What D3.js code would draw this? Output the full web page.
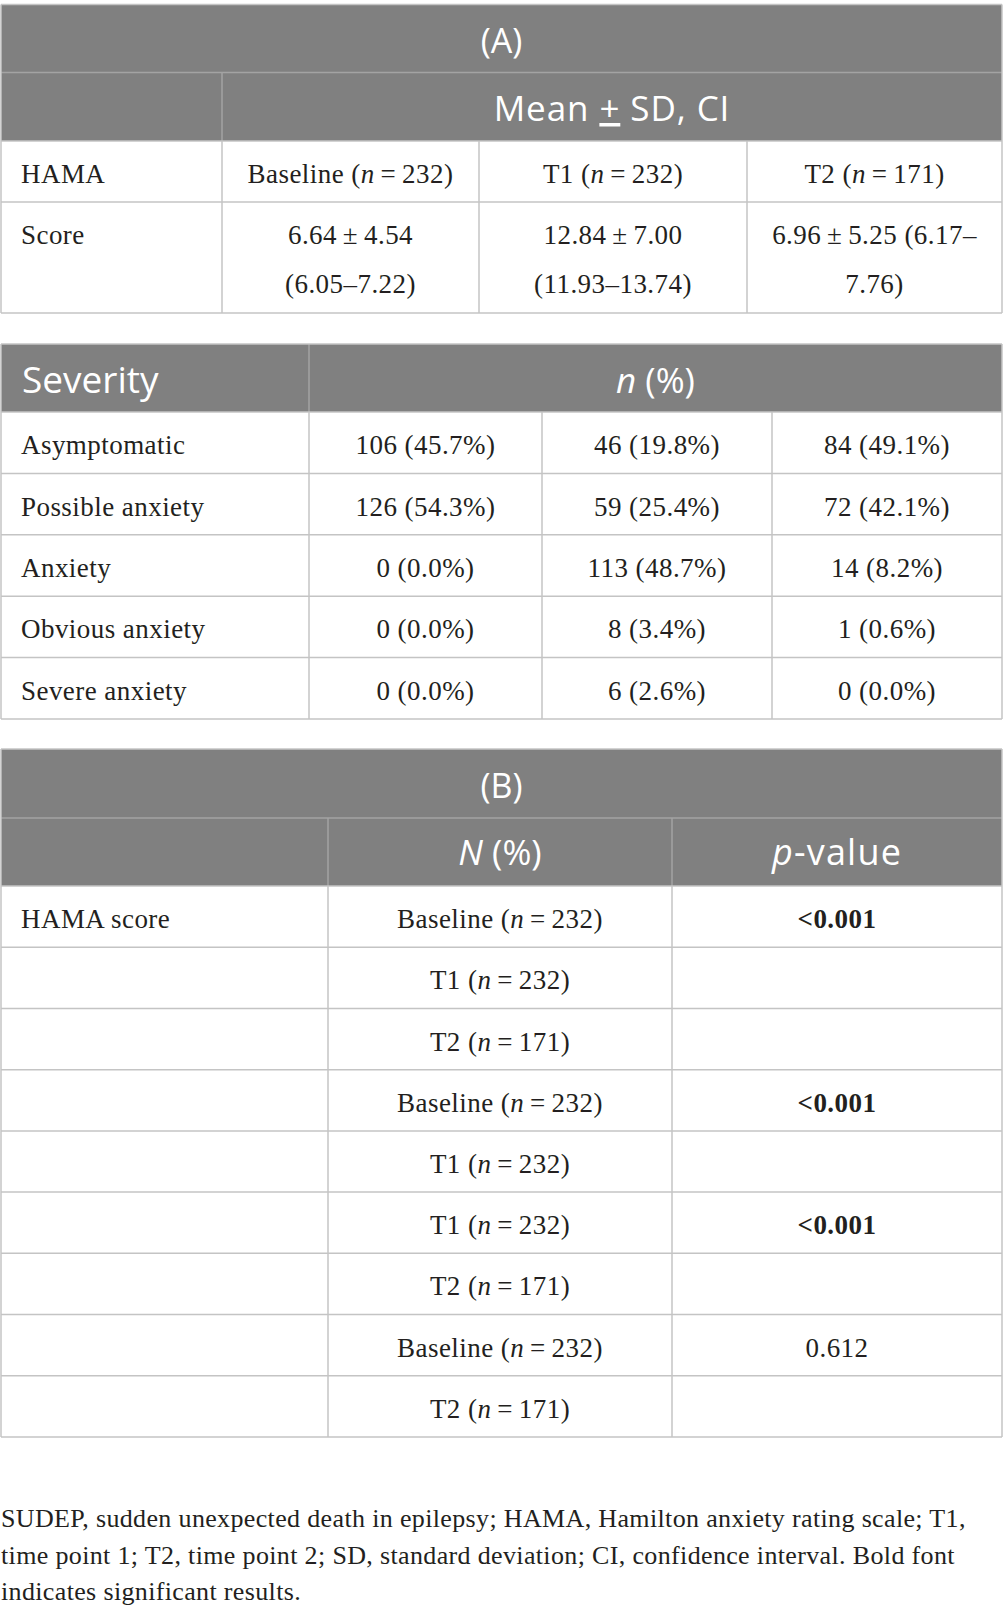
<!DOCTYPE html>
<html>
<head>
<meta charset="utf-8">
<script src="https://cdn.jsdelivr.net/npm/d3@7"></script>
<style>
  body { margin: 0; background: #fff; }
  svg { display: block; }
</style>
</head>
<body>
<div id="chart"></div>
<script>
// Time Points & Sample Sizes
const timepoints = ["Baseline", "T1", "T2"];
const sampleSizes = [232, 232, 171];

// HAMA Score Summary (Mean, SD, 95% CI)
const meanScores = ["6.64", "12.84", "6.96"];
const sdScores = ["4.54", "7.00", "5.25"];
const ciLower = ["6.05", "11.93", "6.17"];
const ciUpper = ["7.22", "13.74", "7.76"];

// Severity Categories, Counts & Percentages Per Time Point
const severityLevels = ["Asymptomatic", "Possible anxiety", "Anxiety", "Obvious anxiety", "Severe anxiety"];
const baselineCounts = [106, 126, 0, 0, 0];
const baselinePct = ["45.7", "54.3", "0.0", "0.0", "0.0"];
const t1Counts = [46, 59, 113, 8, 6];
const t1Pct = ["19.8", "25.4", "48.7", "3.4", "2.6"];
const t2Counts = [84, 72, 14, 1, 0];
const t2Pct = ["49.1", "42.1", "8.2", "0.6", "0.0"];

// Pairwise / Overall Comparisons (Indices Into timepoints)
const comparisonGroups = [[0, 1, 2], [0, 1], [1, 2], [0, 2]];
const comparisonP = ["<0.001", "<0.001", "<0.001", "0.612"];
const comparisonSignificant = [true, true, true, false];

// Footnote
const footnoteLines = [
  "SUDEP, sudden unexpected death in epilepsy; HAMA, Hamilton anxiety rating scale; T1,",
  "time point 1; T2, time point 2; SD, standard deviation; CI, confidence interval. Bold font",
  "indicates significant results."
];

// Dimensions & Styles
let w = 1005, h = 1615;
const headFill = "#808080", headLine = "#a3a3a3", gridLine = "#c4c4c4";
const ink = "#231f20";
const serif = "'Liberation Serif', 'Times New Roman', serif";
const sans = "'Open Sans', 'Noto Sans', sans-serif";
const thin = "\u2009";

let svg = d3.select("#chart").append("svg").attr("width", w).attr("height", h);

// Helper: Horizontal/Vertical Line
function line(x1, y1, x2, y2, color) {
  svg.append("line").attr("x1", x1).attr("y1", y1).attr("x2", x2).attr("y2", y2)
    .attr("stroke", color).attr("stroke-width", 1.5);
}

// Helper: Serif Body Text With Optional Italic "n"
function bodyText(x, y, anchor, parts, bold) {
  let t = svg.append("text").attr("x", x).attr("y", y).attr("text-anchor", anchor)
    .attr("font-family", serif).attr("font-size", 27).attr("letter-spacing", 0.45)
    .attr("fill", ink).attr("font-weight", bold ? "bold" : "normal");
  parts.forEach((p) => {
    t.append("tspan").attr("font-style", p.italic ? "italic" : "normal").text(p.text);
  });
  return t;
}

// Helper: Label "Baseline (n = 232)"
function groupLabel(i) {
  return [
    { text: timepoints[i] + " (" },
    { text: "n", italic: true },
    { text: thin + "=" + thin + sampleSizes[i] + ")" }
  ];
}

// Helper: Header Text (Sans, White)
function headText(x, y, anchor, size, parts, spacing) {
  let t = svg.append("text").attr("x", x).attr("y", y).attr("text-anchor", anchor)
    .attr("font-family", sans).attr("font-size", size).attr("fill", "#fff")
    .attr("letter-spacing", spacing || 0);
  parts.forEach((p) => {
    t.append("tspan").attr("font-style", p.italic ? "italic" : "normal")
      .attr("text-decoration", p.underline ? "underline" : null).text(p.text);
  });
  return t;
}

const L = 1, R = 1002;

// ---------- Table (A): Mean ± SD ----------
let colA = [L, 222, 479, 747, R];
let rowsA = [4.5, 72.5, 141, 202, 313];

svg.append("rect").attr("x", L).attr("y", rowsA[0]).attr("width", R - L).attr("height", rowsA[2] - rowsA[0]).attr("fill", headFill);
line(L, rowsA[1], R, rowsA[1], headLine);
line(colA[1], rowsA[1], colA[1], rowsA[2], headLine);
line(L, rowsA[0], R, rowsA[0], gridLine);
[2, 3, 4].forEach((k) => line(L, rowsA[k], R, rowsA[k], gridLine));
line(L, rowsA[0], L, rowsA[4], gridLine);
line(R, rowsA[0], R, rowsA[4], gridLine);
line(colA[1], rowsA[2], colA[1], rowsA[4], gridLine);
line(colA[2], rowsA[2], colA[2], rowsA[4], gridLine);
line(colA[3], rowsA[2], colA[3], rowsA[4], gridLine);

headText((L + R) / 2, 53, "middle", 34, [{ text: "(A)" }]);
headText((colA[1] + R) / 2, 121, "middle", 35, [
  { text: "Mean " }, { text: "+", underline: true }, { text: " SD, CI" }
], 0.9);

bodyText(21, 183, "start", [{ text: "HAMA" }]);
bodyText(21, 244, "start", [{ text: "Score" }]);
timepoints.forEach((tp, i) => {
  let cx = (colA[i + 1] + colA[i + 2]) / 2;
  bodyText(cx, 183, "middle", groupLabel(i));
  // Score Cell Wraps Onto Two Lines
  let first = meanScores[i] + thin + "±" + thin + sdScores[i];
  let ci = "(" + ciLower[i] + "–" + ciUpper[i] + ")";
  let lines = i == 2
    ? [first + " (" + ciLower[i] + "–", ciUpper[i] + ")"]
    : [first, ci];
  lines.forEach((ln, j) => bodyText(cx, 244 + j * 49, "middle", [{ text: ln }]));
});

// ---------- Table (A): Severity ----------
let colS = [L, 309, 542, 772, R];
let topS = 344, headS = 412, botS = 719;
let yS = d3.scaleBand().domain(d3.range(severityLevels.length)).range([headS, botS]);

svg.append("rect").attr("x", L).attr("y", topS).attr("width", R - L).attr("height", headS - topS).attr("fill", headFill);
line(colS[1], topS, colS[1], headS, headLine);
line(L, topS, R, topS, gridLine);
line(L, headS, R, headS, gridLine);
severityLevels.forEach((s, i) => line(L, yS(i) + yS.bandwidth(), R, yS(i) + yS.bandwidth(), gridLine));
line(L, topS, L, botS, gridLine);
line(R, topS, R, botS, gridLine);
line(colS[1], headS, colS[1], botS, gridLine);
line(colS[2], headS, colS[2], botS, gridLine);
line(colS[3], headS, colS[3], botS, gridLine);

headText(22, 392.5, "start", 37, [{ text: "Severity" }]);
headText((colS[1] + R) / 2, 392.5, "middle", 35, [{ text: "n", italic: true }, { text: " (%)" }]);

let countCols = [[baselineCounts, baselinePct], [t1Counts, t1Pct], [t2Counts, t2Pct]];
severityLevels.forEach((s, i) => {
  let by = yS(i) + yS.bandwidth() / 2 + 11.5;
  bodyText(21, by, "start", [{ text: s }]);
  countCols.forEach((c, k) => {
    let cx = (colS[k + 1] + colS[k + 2]) / 2;
    bodyText(cx, by, "middle", [{ text: c[0][i] + " (" + c[1][i] + "%)" }]);
  });
});

// ---------- Table (B): Comparisons ----------
let colB = [L, 328, 672, R];
let topB = 749, midB = 818, headB = 886, botB = 1437;
let rowItems = [];
comparisonGroups.forEach((g, gi) => g.forEach((tp, j) => rowItems.push({ tp: tp, first: j == 0, gi: gi })));
let yB = d3.scaleBand().domain(d3.range(rowItems.length)).range([headB, botB]);

svg.append("rect").attr("x", L).attr("y", topB).attr("width", R - L).attr("height", headB - topB).attr("fill", headFill);
line(L, midB, R, midB, headLine);
line(colB[1], midB, colB[1], headB, headLine);
line(colB[2], midB, colB[2], headB, headLine);
line(L, topB, R, topB, gridLine);
line(L, headB, R, headB, gridLine);
rowItems.forEach((r, i) => line(L, yB(i) + yB.bandwidth(), R, yB(i) + yB.bandwidth(), gridLine));
line(L, topB, L, botB, gridLine);
line(R, topB, R, botB, gridLine);
line(colB[1], headB, colB[1], botB, gridLine);
line(colB[2], headB, colB[2], botB, gridLine);

headText((L + R) / 2, 797.5, "middle", 34, [{ text: "(B)" }]);
headText((colB[1] + colB[2]) / 2, 865, "middle", 35, [{ text: "N", italic: true }, { text: " (%)" }]);
headText((colB[2] + colB[3]) / 2, 865, "middle", 36, [{ text: "p", italic: true }, { text: "-value" }], 1.2);

rowItems.forEach((r, i) => {
  let by = yB(i) + yB.bandwidth() / 2 + 11.5;
  if (i == 0) bodyText(21, by, "start", [{ text: "HAMA score" }]);
  bodyText((colB[1] + colB[2]) / 2, by, "middle", groupLabel(r.tp));
  if (r.first) bodyText((colB[2] + colB[3]) / 2, by, "middle", [{ text: comparisonP[r.gi] }], comparisonSignificant[r.gi]);
});

// ---------- Footnote ----------
footnoteLines.forEach((f, i) => {
  svg.append("text").attr("x", 1).attr("y", 1527 + i * 36.5)
    .attr("font-family", serif).attr("font-size", 26).attr("letter-spacing", 0.35)
    .attr("fill", ink).text(f);
});
</script>
</body>
</html>
